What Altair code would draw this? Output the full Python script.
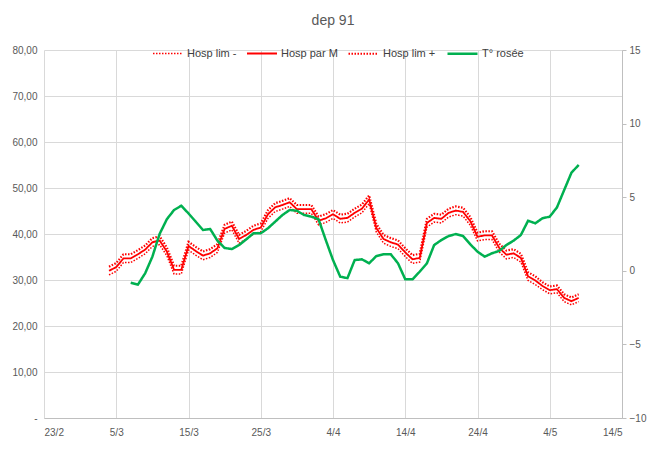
import altair as alt
import pandas as pd

# ---- data (year 2021, daily) ----
hosp_dates = pd.date_range("2021-03-04", "2021-05-08", freq="D").strftime("%Y-%m-%d").tolist()
hosp_m = [32.0, 32.8, 34.7, 34.7, 35.6, 36.6, 38.2, 38.6, 36.2, 32.2,
          32.2, 37.4, 36.3, 35.3, 35.8, 36.9, 41.1, 41.8, 38.9, 39.8,
          40.9, 41.4, 44.3, 45.8, 46.3, 46.9, 45.4, 45.4, 45.4, 42.9,
          43.4, 44.3, 43.3, 43.5, 44.6, 45.5, 47.5, 41.3, 38.9, 38.2,
          37.7, 36.0, 34.5, 34.8, 42.4, 43.5, 43.3, 44.6, 45.1, 44.8,
          42.8, 39.4, 39.7, 39.7, 37.0, 35.5, 35.8, 34.8, 30.8, 29.9,
          28.7, 27.8, 28.0, 26.1, 25.4, 26.1]
hosp_lo = [31.1, 31.9, 33.8, 33.8, 34.7, 35.7, 37.3, 37.7, 35.3, 31.3,
           31.3, 36.5, 35.4, 34.4, 34.9, 36.0, 40.2, 40.9, 38.0, 38.9,
           40.0, 40.5, 43.4, 44.9, 45.4, 46.0, 44.5, 44.5, 44.5, 42.0,
           42.5, 43.4, 42.4, 42.6, 43.7, 44.6, 46.6, 40.4, 38.0, 37.3,
           36.8, 35.1, 33.6, 33.9, 41.5, 42.6, 42.4, 43.7, 44.2, 43.9,
           41.9, 38.5, 38.8, 38.8, 36.1, 34.6, 34.9, 33.9, 29.9, 29.0,
           27.9, 27.0, 27.2, 25.3, 24.6, 25.3]
hosp_hi = [32.9, 33.7, 35.6, 35.6, 36.5, 37.5, 39.1, 39.5, 37.1, 33.1,
           33.1, 38.3, 37.2, 36.2, 36.7, 37.8, 42.0, 42.7, 39.8, 40.7,
           41.8, 42.3, 45.2, 46.7, 47.2, 47.8, 46.3, 46.3, 46.3, 43.8,
           44.3, 45.2, 44.2, 44.4, 45.5, 46.4, 48.4, 42.2, 39.8, 39.1,
           38.6, 36.9, 35.4, 35.7, 43.3, 44.4, 44.2, 45.5, 46.0, 45.7,
           43.7, 40.3, 40.6, 40.6, 37.9, 36.4, 36.7, 35.7, 31.7, 30.8,
           29.5, 28.6, 28.8, 26.9, 26.2, 26.9]

dew_dates = pd.date_range("2021-03-07", "2021-05-08", freq="D").strftime("%Y-%m-%d").tolist()
dew_point = [-0.81, -0.94, -0.17, 0.96, 2.50, 3.50, 4.13, 4.42, 3.90, 3.34,
             2.77, 2.84, 2.05, 1.55, 1.48, 1.75, 2.14, 2.55, 2.55, 2.89,
             3.34, 3.79, 4.13, 4.08, 3.79, 3.68, 3.50, 2.09, 0.73, -0.40,
             -0.50, 0.73, 0.78, 0.51, 1.00, 1.12, 1.12, 0.51, -0.58, -0.58,
             -0.06, 0.51, 1.75, 2.09, 2.36, 2.50, 2.36, 1.80, 1.30, 0.96,
             1.19, 1.35, 1.75, 2.05, 2.43, 3.40, 3.23, 3.57, 3.68, 4.31,
             5.49, 6.66, 7.19]

series_names = ["Hosp lim -", "Hosp par M", "Hosp lim +", "T° rosée"]
series_colors = ["#FF0000", "#FF0000", "#FF0000", "#00B050"]
series_dash = [[1.5, 1.5], [1, 0], [1.5, 1.5], [1, 0]]
series_width = [1.5, 2.5, 1.5, 2.0]

x_ticks = ["2021-02-23", "2021-03-05", "2021-03-15", "2021-03-25", "2021-04-04",
           "2021-04-14", "2021-04-24", "2021-05-04", "2021-05-14"]
left_ticks = [0, 10, 20, 30, 40, 50, 60, 70, 80]
right_ticks = [-10, -5, 0, 5, 10, 15]

# ---- tables ----
hosp_df = pd.concat([
    pd.DataFrame({"date": hosp_dates, "value": hosp_lo, "series": series_names[0]}),
    pd.DataFrame({"date": hosp_dates, "value": hosp_m, "series": series_names[1]}),
    pd.DataFrame({"date": hosp_dates, "value": hosp_hi, "series": series_names[2]}),
])
dew_df = pd.DataFrame({"date": dew_dates, "value": dew_point, "series": series_names[3]})


def dt(s):
    y, m, d = (int(p) for p in s.split("-"))
    return alt.DateTime(year=y, month=m, date=d, utc=True)


FONT = "Liberation Sans"
x_enc = alt.X(
    "date:T",
    scale=alt.Scale(type="utc", domain=[dt(x_ticks[0]), dt(x_ticks[-1])]),
    axis=alt.Axis(
        values=[dt(s) for s in x_ticks],
        labelExpr="utcFormat(datum.value, '%-d/%-m')",
        title=None, grid=True, gridColor="#D9D9D9", domainColor="#BFBFBF",
        ticks=False, labelPadding=9, labelColor="#595959", labelFontSize=10,
        labelFont=FONT,
    ),
)
color_enc = alt.Color("series:N", scale=alt.Scale(domain=series_names, range=series_colors),
                      legend=alt.Legend(title=None))
dash_enc = alt.StrokeDash("series:N", scale=alt.Scale(domain=series_names, range=series_dash),
                          legend=alt.Legend(title=None))
width_enc = alt.StrokeWidth("series:N", scale=alt.Scale(domain=series_names, range=series_width),
                            legend=None)

hosp = alt.Chart(hosp_df).mark_line().encode(
    x=x_enc,
    y=alt.Y("value:Q",
            scale=alt.Scale(domain=[0, 80], nice=False),
            axis=alt.Axis(values=left_ticks, title=None, grid=True, gridColor="#D9D9D9",
                          domain=False, ticks=False, labelPadding=7,
                          labelExpr="datum.value == 0 ? '-' : replace(format(datum.value, '.2f'), '.', ',')",
                          labelColor="#595959", labelFontSize=10, labelFont=FONT)),
    color=color_enc, strokeDash=dash_enc, strokeWidth=width_enc,
    detail="series:N",
)

dew = alt.Chart(dew_df).mark_line().encode(
    x=x_enc,
    y=alt.Y("value:Q",
            scale=alt.Scale(domain=[-10, 15], nice=False),
            axis=alt.Axis(orient="right", values=right_ticks, title=None, grid=False,
                          domain=True, domainColor="#BFBFBF", ticks=True, tickColor="#BFBFBF",
                          tickSize=4, labelPadding=3, labelColor="#595959",
                          labelFontSize=10, labelFont=FONT)),
    color=color_enc, strokeDash=dash_enc, strokeWidth=width_enc,
)

chart = alt.layer(hosp, dew).resolve_scale(y="independent").properties(
    width=578, height=368,
    title=alt.TitleParams("dep 91", fontSize=14, fontWeight="normal", color="#595959",
                          font=FONT, offset=9, anchor="middle"),
    autosize=alt.AutoSizeParams(type="none"),
    padding={"left": 36, "top": 42, "right": 32, "bottom": 25},
).configure_legend(
    orient="none", legendX=108, legendY=-13, direction="horizontal",
    symbolType="stroke", symbolSize=900, symbolStrokeWidth=2,
    labelFontSize=11, labelColor="#404040", labelFont=FONT, labelOffset=3,
    columnPadding=6,
).configure_view(stroke=None)

chart.save("out.html", embed_options={"renderer": "svg", "actions": False})
